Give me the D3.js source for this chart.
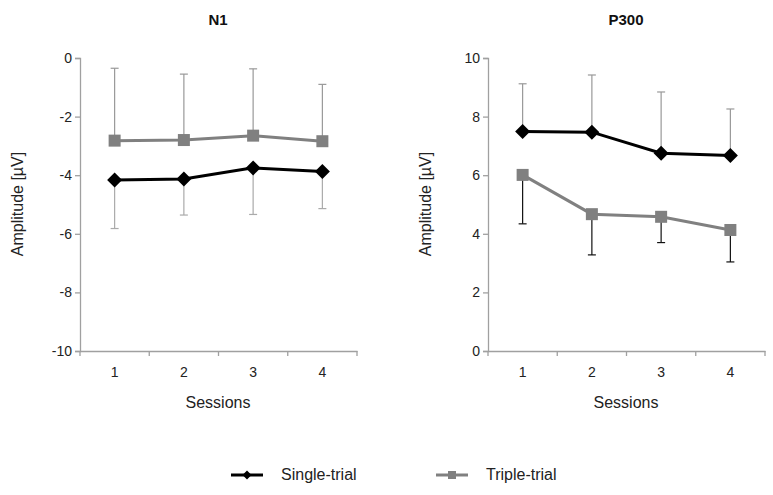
<!DOCTYPE html>
<html><head><meta charset="utf-8">
<script src="https://cdn.jsdelivr.net/npm/d3@7"></script>
<style>body{margin:0;background:#fff}svg{display:block}text{font-family:Arial,"Liberation Sans",sans-serif}</style>
</head><body><svg id="c" width="773" height="495"></svg>
<script>
const sessions = ["1","2","3","4"];
const n1Single = [-4.16, -4.13, -3.75, -3.87];
const n1SingleErr = [-5.82, -5.36, -5.34, -5.14];
const n1Triple = [-2.82, -2.80, -2.65, -2.84];
const n1TripleErr = [-0.35, -0.55, -0.37, -0.90];
const p3Single = [7.49, 7.47, 6.75, 6.67];
const p3SingleErr = [9.12, 9.42, 8.84, 8.26];
const p3Triple = [6.01, 4.67, 4.58, 4.13];
const p3TripleErr = [4.34, 3.28, 3.70, 3.04];
const n1Ticks = [0,-2,-4,-6,-8,-10];
const p3Ticks = [0,2,4,6,8,10];

const svg = d3.select("#c");
const axisColor = "#a0a0a0";
const diamond = r => `M0,${-r}L${r},0L0,${r}L${-r},0Z`;

function panel(cfg){
  const g = svg.append("g");
  const x = d3.scaleBand().domain(sessions).range([cfg.x0, cfg.x0+277]);
  const y = d3.scaleLinear().domain(cfg.domain).range([351, 58]);
  const ya = d3.axisLeft(y).tickValues(cfg.ticks).tickSize(5).tickFormat(d=>d);
  const yg = g.append("g").attr("transform",`translate(${cfg.x0},0)`).call(ya);
  const xa = d3.axisBottom(x).tickSize(0);
  const xg = g.append("g").attr("transform",`translate(0,351)`).call(xa);
  [yg,xg].forEach(a=>{
    a.select(".domain").attr("stroke",axisColor).attr("stroke-width",1.3);
    a.selectAll(".tick line").attr("stroke",axisColor).attr("stroke-width",1.3);
    a.selectAll("text").attr("fill","#222").style("font-size","14px").style("font-family","Arial,'Liberation Sans',sans-serif");
  });
  yg.selectAll("text").attr("x",-8);
  xg.selectAll("text").attr("dy","1.65em");
  const bounds = sessions.map(s=>x(s)).concat([x(sessions[3])+x.bandwidth()]);
  g.selectAll(".xt").data(bounds).join("line")
    .attr("x1",d=>d).attr("x2",d=>d).attr("y1",351).attr("y2",356)
    .attr("stroke",axisColor).attr("stroke-width",1.3);
  const cx = s=>x(s)+x.bandwidth()/2;
  function err(vals, ends, color){
    sessions.forEach((s,i)=>{
      g.append("line").attr("x1",cx(s)).attr("x2",cx(s)).attr("y1",y(vals[i])).attr("y2",y(ends[i]))
        .attr("stroke",color).attr("stroke-width",1.2);
      g.append("line").attr("x1",cx(s)-4).attr("x2",cx(s)+4).attr("y1",y(ends[i])).attr("y2",y(ends[i]))
        .attr("stroke",color).attr("stroke-width",1.2);
    });
  }
  err(cfg.single, cfg.singleErr, cfg.singleErrColor);
  err(cfg.triple, cfg.tripleErr, cfg.tripleErrColor);
  const line = d3.line().x((d,i)=>cx(sessions[i])).y(d=>y(d));
  g.append("path").attr("d",line(cfg.triple)).attr("fill","none").attr("stroke","#808080").attr("stroke-width",3);
  g.append("path").attr("d",line(cfg.single)).attr("fill","none").attr("stroke","#000").attr("stroke-width",3);
  g.selectAll(".sq").data(cfg.triple).join("rect")
    .attr("x",(d,i)=>cx(sessions[i])-6).attr("y",d=>y(d)-6).attr("width",12).attr("height",12).attr("fill","#808080");
  g.selectAll(".dm").data(cfg.single).join("path")
    .attr("d",diamond(7.5))
    .attr("transform",(d,i)=>`translate(${cx(sessions[i])},${y(d)})`)
    .attr("fill","#000");
  g.append("text").attr("x",cfg.x0+138).attr("y",25).attr("text-anchor","middle")
    .style("font-size","15px").style("font-weight","bold").attr("fill","#111").text(cfg.title);
  g.append("text").attr("transform",`translate(${cfg.x0-57},${204}) rotate(-90)`).attr("text-anchor","middle")
    .style("font-size","16px").attr("fill","#222").text("Amplitude [µV]");
  g.append("text").attr("x",cfg.x0+138).attr("y",408).attr("text-anchor","middle")
    .style("font-size","16px").attr("fill","#222").text("Sessions");
}

panel({x0:80, domain:[-10,0], ticks:n1Ticks, title:"N1",
  single:n1Single, singleErr:n1SingleErr, triple:n1Triple, tripleErr:n1TripleErr,
  singleErrColor:"#aaaaaa", tripleErrColor:"#999999"});
panel({x0:488, domain:[0,10], ticks:p3Ticks, title:"P300",
  single:p3Single, singleErr:p3SingleErr, triple:p3Triple, tripleErr:p3TripleErr,
  singleErrColor:"#999999", tripleErrColor:"#111111"});

const lg = svg.append("g");
const legendItems = [{label:"Single-trial", color:"#000", shape:"d", x:231},{label:"Triple-trial", color:"#808080", shape:"s", x:436}];
legendItems.forEach(it=>{
  lg.append("line").attr("x1",it.x).attr("x2",it.x+32).attr("y1",475).attr("y2",475).attr("stroke",it.color).attr("stroke-width",3);
  if(it.shape==="d"){
    lg.append("path").attr("d",diamond(4.5)).attr("transform",`translate(${it.x+16},475)`).attr("fill",it.color);
  } else {
    lg.append("rect").attr("x",it.x+12).attr("y",471).attr("width",8).attr("height",8).attr("fill",it.color);
  }
  lg.append("text").attr("x",it.x+50).attr("y",480).style("font-size","16px").attr("fill","#222").text(it.label);
});
</script></body></html>
